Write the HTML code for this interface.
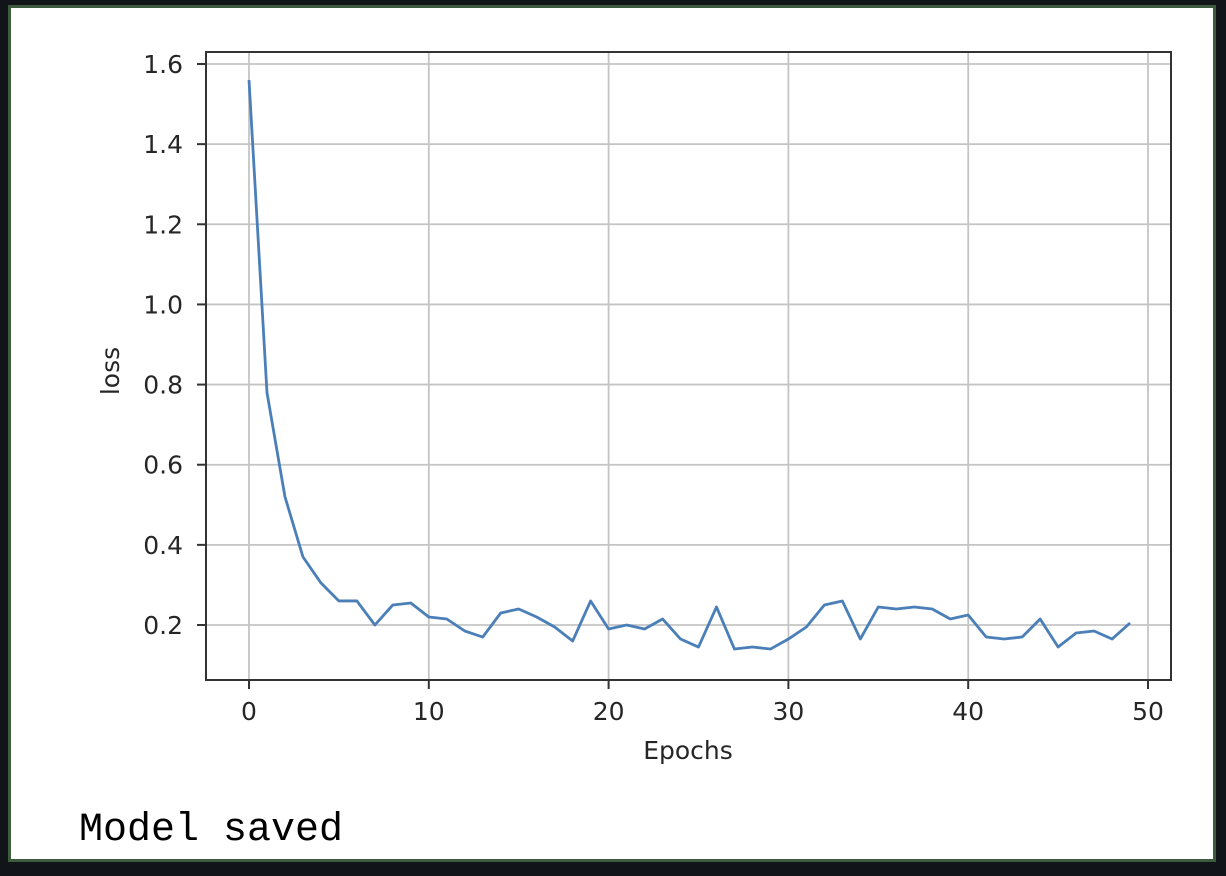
<!DOCTYPE html>
<html><head><meta charset="utf-8"><style>
html,body{margin:0;padding:0;background:#111418;width:1226px;height:876px;overflow:hidden}
#frame{position:absolute;left:8px;top:5px;width:1202px;height:851px;border:3px solid #3d5c3d;background:#fff}
#msg{position:absolute;left:79px;top:809px;font-family:"Liberation Mono",monospace;font-size:40px;color:#000;line-height:44px;letter-spacing:0px}
svg{position:absolute;left:0;top:0}
text{font-family:"DejaVu Sans","Liberation Sans",sans-serif;fill:#262626}
</style></head><body>
<div id="frame"></div>
<svg id="chart" width="1226" height="876"></svg>
<div id="msg">Model saved</div>
<script>
const epochs=[...Array(50).keys()];
const loss=[1.56,0.78,0.52,0.37,0.305,0.26,0.26,0.20,0.25,0.255,0.22,0.215,0.185,0.17,0.23,0.24,0.22,0.195,0.16,0.26,0.19,0.20,0.19,0.215,0.165,0.145,0.245,0.14,0.145,0.14,0.165,0.195,0.25,0.26,0.165,0.245,0.24,0.245,0.24,0.215,0.225,0.17,0.165,0.17,0.215,0.145,0.18,0.185,0.165,0.205];
const xTicks=[0,10,20,30,40,50];
const yTicks=[0.2,0.4,0.6,0.8,1.0,1.2,1.4,1.6];
const NS="http://www.w3.org/2000/svg",svg=document.getElementById('chart');
const L=206,R=1171,T=52,B=680;
const xs=v=>249+(v-0)*(1148-249)/50;
const ys=v=>625-(v-0.2)*(625-64)/1.4;
function mk(t,a){const e=document.createElementNS(NS,t);for(const k in a)e.setAttribute(k,a[k]);svg.appendChild(e);return e;}
xTicks.forEach(t=>{const x=xs(t);
 const g=mk('line',{x1:x,x2:x,y1:T,y2:B,stroke:'#c4c4c4','stroke-width':1.8});
 
 mk('line',{x1:x,x2:x,y1:B,y2:B+9,stroke:'#333','stroke-width':2});
 const tx=mk('text',{x:x,y:B+40,'text-anchor':'middle','font-size':25});tx.textContent=t;
 });
yTicks.forEach(t=>{const y=ys(t);
 const g=mk('line',{x1:L,x2:R,y1:y,y2:y,stroke:'#c4c4c4','stroke-width':1.8});
 
 mk('line',{x1:L-9,x2:L,y1:y,y2:y,stroke:'#333','stroke-width':2});
 const tx=mk('text',{x:L-23,y:y+9,'text-anchor':'end','font-size':25});tx.textContent=t.toFixed(1);
 });
const ln=mk('polyline',{points:epochs.map((e,i)=>xs(e)+','+ys(loss[i])).join(' '),fill:'none',stroke:'#4a7fb8','stroke-width':2.8,'stroke-linejoin':'round'});

const fr=mk('rect',{x:L,y:T,width:R-L,height:B-T,fill:'none',stroke:'#333','stroke-width':2});

const xl=mk('text',{x:688,y:759,'text-anchor':'middle','font-size':25});xl.textContent='Epochs';

const yl=mk('text',{x:0,y:0,'text-anchor':'middle','font-size':25,transform:'translate(119,371) rotate(-90)'});yl.textContent='loss';

</script>
</body></html>
